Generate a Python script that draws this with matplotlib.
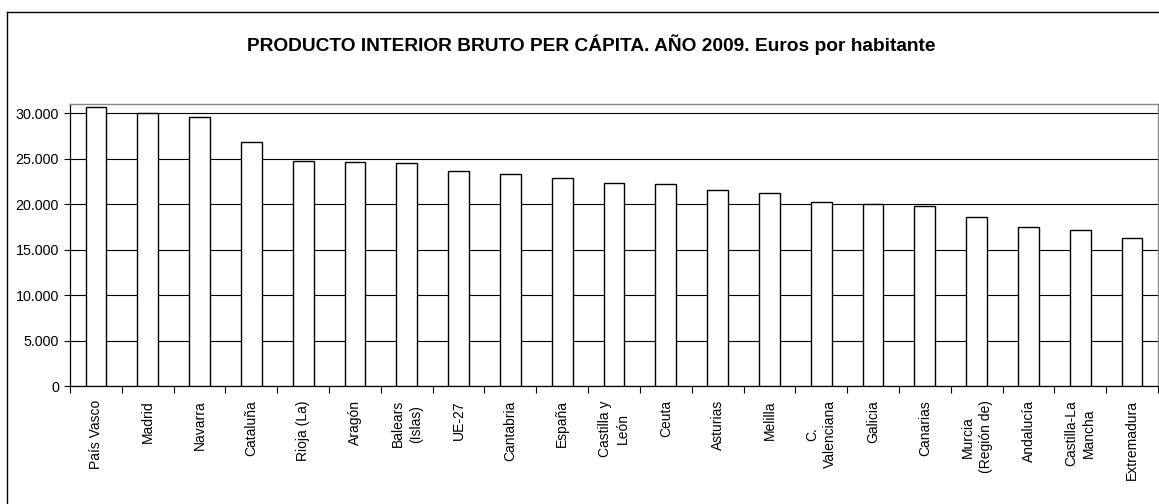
import matplotlib
matplotlib.use("Agg")
import matplotlib.pyplot as plt
from matplotlib.lines import Line2D
from matplotlib.ticker import FuncFormatter, MultipleLocator
import numpy as np

plt.rcParams["font.family"] = ["Liberation Sans", "DejaVu Sans"]

regions = ["País Vasco", "Madrid", "Navarra", "Cataluña", "Rioja (La)", "Aragón",
           "Balears\n(Islas)", "UE-27", "Cantabria", "España", "Castilla y\nLeón",
           "Ceuta", "Asturias", "Melilla", "C.\nValenciana", "Galicia", "Canarias",
           "Murcia\n(Región de)", "Andalucía", "Castilla-La\nMancha", "Extremadura"]
pib_per_capita = [30720, 30060, 29630, 26850, 24760, 24650, 24540, 23630, 23360,
                  22890, 22340, 22230, 21540, 21280, 20290, 20030, 19850, 18640,
                  17510, 17180, 16260]

W, H = 1159, 504
fig = plt.figure(figsize=(W / 100, H / 100), dpi=100)

# outer chart frame (cropped on right and bottom in the original)
fx, fy = 7 / W, 1 - 12 / H
fig.add_artist(Line2D([fx, 1.0], [fy, fy], color="black", lw=1.0, transform=fig.transFigure))
fig.add_artist(Line2D([fx, fx], [0.0, fy], color="black", lw=1.0, transform=fig.transFigure))

fig.text(591 / W, 1 - 45 / H,
         "PRODUCTO INTERIOR BRUTO PER CÁPITA. AÑO 2009. Euros por habitante",
         ha="center", va="center", fontsize=13.8, fontweight="bold")

left, right = 70 / W, 1158 / W
bottom, top = 1 - 386.3 / H, 1 - 104.2 / H
ax = fig.add_axes([left, bottom, right - left, top - bottom])

x = np.arange(len(regions))
ax.bar(x, pib_per_capita, width=0.4, color="white", edgecolor="black", linewidth=1.0, zorder=3)

ax.set_xlim(-0.5, len(regions) - 0.5)
ax.set_ylim(0, 31000)
ax.yaxis.set_major_locator(MultipleLocator(5000))
ax.yaxis.set_major_formatter(FuncFormatter(lambda v, p: f"{int(v):,}".replace(",", ".")))
ax.grid(axis="y", color="black", linewidth=0.8, zorder=0)

ax.set_xticks(x)
ax.set_xticklabels(regions, rotation=90, ha="center", va="top", multialignment="center",
                   fontsize=10, linespacing=1.35)
ax.set_xticks(np.arange(len(regions) + 1) - 0.5, minor=True)
ax.tick_params(axis="x", which="major", length=0, pad=10)
ax.tick_params(axis="x", which="minor", length=5, width=0.8, direction="out")
ax.tick_params(axis="y", length=4, width=0.8, direction="out", labelsize=10.3, pad=4)

for s in ["left", "bottom"]:
    ax.spines[s].set_color("black")
    ax.spines[s].set_linewidth(0.9)
for s in ["top", "right"]:
    ax.spines[s].set_color("#888888")
    ax.spines[s].set_linewidth(1.0)

fig.savefig("out.png", dpi=100)
